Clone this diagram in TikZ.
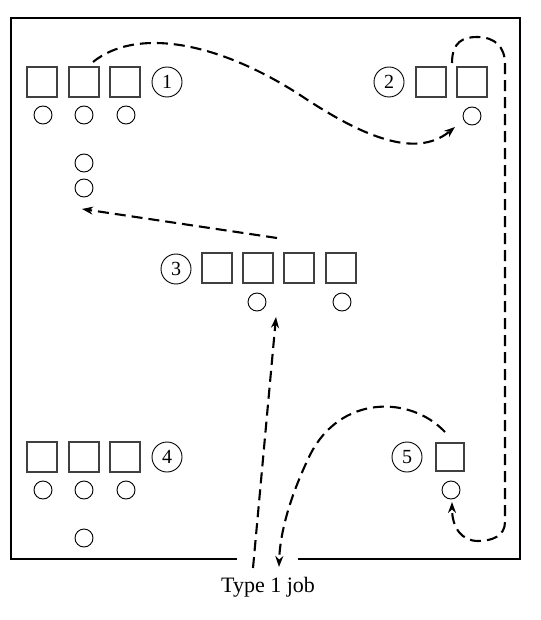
\documentclass[tikz,border=0pt]{standalone}
\usepackage{fontspec}
\setmainfont{Liberation Serif}
\usetikzlibrary{arrows.meta}
\begin{document}
\begin{tikzpicture}[x=1pt,y=-1pt,
  machine/.style={draw=black!75,line width=1.1pt,minimum size=30pt,inner sep=0pt},
  part/.style={draw,circle,line width=0.9pt,minimum size=18pt,inner sep=0pt},
  stlabel/.style={draw,circle,line width=0.9pt,minimum size=30pt,inner sep=0pt,font=\fontsize{20}{20}\selectfont},
  route/.style={line width=2.1pt,dash pattern=on 11pt off 6pt,-{Stealth[length=11pt,width=8pt]}},
  frame/.style={line width=1.1pt}]
\useasboundingbox (0,0) rectangle (540,620);
% frame
\coordinate (g1) at (237,559);
\coordinate (g2) at (298,559);
\draw[frame] (g1) -- (11,559) -- (11,18) -- (520,18) -- (520,559) -- (g2);
% station 1
\node[machine] (m11) at (42,82) {};
\node[machine] (m12) at (84,82) {};
\node[machine] (m13) at (125,82) {};
\node[stlabel] (s1) at (167,82) {1};
\node[part] (p11) at (43,115) {};
\node[part] (p12) at (84,115) {};
\node[part] (p13) at (126,115) {};
\node[part] (p14) at (84,163) {};
\node[part] (p15) at (84,188) {};
% station 2
\node[stlabel] (s2) at (389,82) {2};
\node[machine] (m21) at (431,82) {};
\node[machine] (m22) at (472,82) {};
\node[part] (p21) at (472,116) {};
% station 3
\node[stlabel] (s3) at (176,269) {3};
\node[machine] (m31) at (217,268) {};
\node[machine] (m32) at (258,268) {};
\node[machine] (m33) at (299,268) {};
\node[machine] (m34) at (341,268) {};
\node[part] (p31) at (257,302) {};
\node[part] (p32) at (342,302) {};
% station 4
\node[machine] (m41) at (42,457) {};
\node[machine] (m42) at (84,457) {};
\node[machine] (m43) at (125,457) {};
\node[stlabel] (s4) at (167,457) {4};
\node[part] (p41) at (43,490) {};
\node[part] (p42) at (84,490) {};
\node[part] (p43) at (126,490) {};
\node[part] (p44) at (84,538) {};
% station 5
\node[stlabel] (s5) at (407,457) {5};
\node[machine,minimum size=28pt] (m51) at (450,457) {};
\node[part] (p51) at (451,490) {};
% label
\node[font=\fontsize{22}{22}\selectfont] (job) at (268,587) {Type 1 job};
% route end points
\coordinate (a0) at (253,568);
\coordinate (t3) at (276,317);
\coordinate (f3) at (277,238);
\coordinate (t1) at (82,209);
\coordinate (f1) at (93,62);
\coordinate (t2) at (455,127);
\coordinate (f2) at (452,63);
\coordinate (t5) at (452,502);
\coordinate (f5) at (445,432);
\coordinate (b0) at (279,567);
% routes
\draw[route] (a0) -- (t3);
\draw[route] (f3) -- (t1);
\draw[route] (f1) .. controls (135,28) and (215,40) .. (300,95)
  .. controls (360,135) and (415,160) .. (t2);
\draw[route] (f2) .. controls (452,42) and (463,37) .. (477,37)
  .. controls (495,37) and (505,47) .. (505,64) -- (505,522)
  .. controls (505,536) and (492,541) .. (478,541)
  .. controls (462,541) and (452,528) .. (t5);
\draw[route] (f5) .. controls (410,395) and (340,395) .. (310,455)
  .. controls (292,492) and (280,530) .. (b0);
\end{tikzpicture}
\end{document}
